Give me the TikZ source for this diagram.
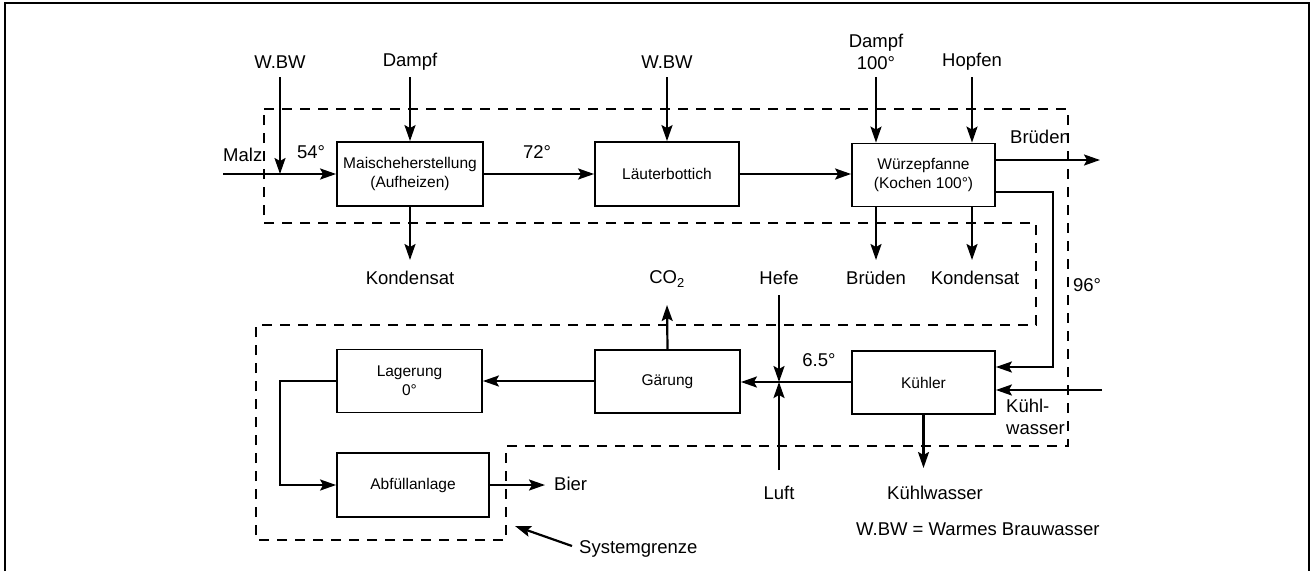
\documentclass[tikz,border=0pt]{standalone}
\usepackage{fontspec}
\setmainfont{Liberation Sans}
\usetikzlibrary{arrows.meta}
\begin{document}
\begin{tikzpicture}[x=1pt,y=-1pt,
 proc/.style={draw,line width=1.8pt,inner sep=0pt,align=center,font=\fontsize{15.5}{19}\selectfont},
 lbl/.style={inner sep=1pt,align=center,font=\fontsize{18.5}{22}\selectfont},
 flow/.style={line width=2.2pt,-{Stealth[length=16pt,width=11pt,inset=3pt]}},
 bound/.style={line width=1.6pt,dash pattern=on 10pt off 8pt},
 frameline/.style={line width=2.4pt}]
\fill[white] (0,0) rectangle (1311,571);
\useasboundingbox (0,0) rectangle (1311,571);
\draw[frameline] (5,571) -- (5,3) -- (1309,3) -- (1309,571);

% process boxes
\node[proc,minimum width=146pt,minimum height=64pt] (mai) at (410,174) {Maischeherstellung\\(Aufheizen)};
\node[proc,minimum width=144pt,minimum height=64pt] (lau) at (667,174) {Läuterbottich};
\node[proc,minimum width=143pt,minimum height=63pt] (wue) at (923.5,175) {Würzepfanne\\(Kochen 100°)};
\node[proc,minimum width=145pt,minimum height=63pt] (lag) at (409.5,381) {Lagerung\\0°};
\node[proc,minimum width=145pt,minimum height=63pt] (gae) at (667.5,381.5) {Gärung};
\node[proc,minimum width=143pt,minimum height=63pt] (kue) at (923.5,382.5) {Kühler};
\node[proc,minimum width=152pt,minimum height=64pt] (abf) at (413,485) {Abfüllanlage};

% labels
\node[lbl] (wbw1) at (280,62) {W.BW};
\node[lbl] (dampf1) at (410,62) {Dampf};
\node[lbl] (wbw2) at (667,62) {W.BW};
\node[lbl] (dampf2) at (876,52) {Dampf\\100°};
\node[lbl] (hopfen) at (972,62) {Hopfen};
\node[lbl,anchor=west] (malz) at (222,155) {Malz};
\node[lbl] (t54) at (311,152) {54°};
\node[lbl] (t72) at (537,152) {72°};
\node[lbl] (bru1) at (1040,137) {Brüden};
\node[lbl] (kond1) at (410,278) {Kondensat};
\node[lbl] (co2) at (667,279) {CO\textsubscript{2}};
\node[lbl] (hefe) at (779,278) {Hefe};
\node[lbl] (bru2) at (876,278) {Brüden};
\node[lbl] (kond2) at (975,278) {Kondensat};
\node[lbl] (t96) at (1087,285) {96°};
\node[lbl] (t65) at (819,360) {6.5°};
\node[lbl,anchor=west,align=left] (kw1) at (1005,417) {Kühl-\\wasser};
\node[lbl] (luft) at (779,493) {Luft};
\node[lbl] (kw2) at (935,493) {Kühlwasser};
\node[lbl,anchor=west] (legend) at (855,529) {W.BW = Warmes Brauwasser};
\node[lbl,anchor=west] (bier) at (553,484) {Bier};
\node[lbl,anchor=west] (sys) at (578,549) {Systemgrenze};

% free ends and corners
\coordinate (malzin) at (223,174);
\coordinate (wbw1s) at (280,77);
\coordinate (d1s) at (410,77);
\coordinate (wbw2s) at (667,77);
\coordinate (d2s) at (876,77);
\coordinate (hops) at (972,77);
\coordinate (kond1e) at (410,260);
\coordinate (bru2e) at (876,260);
\coordinate (kond2e) at (972,260);
\coordinate (bru1e) at (1100,160);
\coordinate (c96a) at (1053,192);
\coordinate (c96b) at (1053,367);
\coordinate (kwin) at (1102,390);
\coordinate (kw2e) at (923.5,468);
\coordinate (co2e) at (667,305);
\coordinate (hefes) at (779,295);
\coordinate (lufts) at (779,470);
\coordinate (jn) at (779,382);
\coordinate (lk) at (280,381);
\coordinate (biere) at (545,485);
\coordinate (sysS) at (572,546);
\coordinate (sysE) at (515,526);

% system boundary
\draw[bound] (264,109) -- (1068,109) -- (1068,446) -- (506,446) -- (506,540) -- (256,540) -- (256,325) -- (1036,325) -- (1036,223) -- (264,223) -- cycle;

% flows
\draw[flow] (malzin) -- (mai.west);
\draw[flow] (wbw1s) -- (wbw1s |- mai.west);
\draw[flow] (d1s) -- (mai.north);
\draw[flow] (mai.east) -- (lau.west);
\draw[flow] (wbw2s) -- (lau.north);
\draw[flow] (lau.east) -- (lau.east -| wue.west);
\draw[flow] (d2s) -- (d2s |- wue.north);
\draw[flow] (hops) -- (hops |- wue.north);
\draw[flow] (mai.south) -- (kond1e);
\draw[flow] (bru2e |- wue.south) -- (bru2e);
\draw[flow] (kond2e |- wue.south) -- (kond2e);
\draw[flow] (wue.east |- bru1e) -- (bru1e);
\draw[flow] (wue.east |- c96a) -- (c96a) -- (c96b) -- (kue.east |- c96b);
\draw[flow] (kwin) -- (kue.east |- kwin);
\draw[flow] (kue.south) -- (kw2e);
\draw[flow] (kue.west |- jn) -- (gae.east |- jn);
\draw[flow] (hefes) -- (jn);
\draw[flow] (lufts) -- (jn);
\draw[flow] (gae.north) -- (co2e);
\draw[flow] (gae.west |- lag.east) -- (lag.east);
\draw[flow] (lag.west) -- (lk) |- (abf.west);
\draw[flow] (abf.east) -- (biere);
\draw[flow] (sysS) -- (sysE);
\end{tikzpicture}
\end{document}
